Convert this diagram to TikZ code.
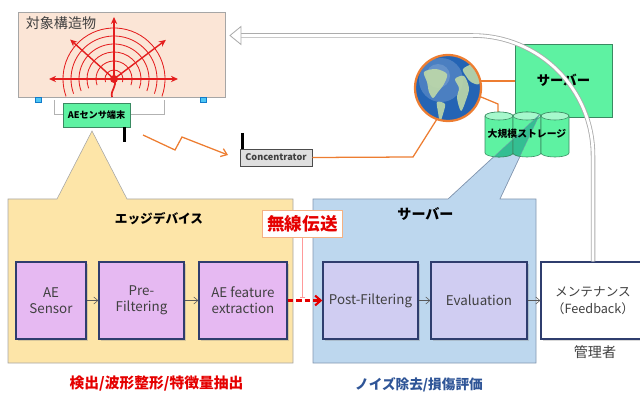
\documentclass[tikz,border=0pt]{standalone}
\usepackage{fontspec}
\setmainfont{Noto Sans CJK JP}
\usetikzlibrary{arrows.meta,shadows}

\definecolor{objfill}{HTML}{FBE5D6}
\definecolor{wave}{HTML}{E41E1E}
\definecolor{termgreen}{HTML}{5EF2A2}
\definecolor{drumline}{HTML}{3A8A62}
\definecolor{edgefill}{HTML}{FDE5A8}
\definecolor{srvfill}{HTML}{BDD7EE}
\definecolor{srvline}{HTML}{8497B0}
\definecolor{procA}{HTML}{E6B9F2}
\definecolor{procB}{HTML}{D0CDF2}
\definecolor{navy}{HTML}{2F3D6E}
\definecolor{wire}{HTML}{ED7D31}
\definecolor{capblue}{HTML}{2F5597}
\definecolor{globeblue}{HTML}{2464B4}
\definecolor{land}{HTML}{BFD9A8}
\definecolor{txtgray}{HTML}{404040}

\tikzset{
  proc/.style={draw=navy, line width=0.9pt, fill=procA, minimum height=1.925cm,
    inner sep=0pt, align=center, text=txtgray, font=\fontsize{9.5}{11.5}\selectfont,
    drop shadow={opacity=0.3, shadow xshift=1.2pt, shadow yshift=-1.2pt}},
  flow/.style={draw=gray!70!black, -{Straight Barb[length=3pt,width=5pt]}},
  wire/.style={draw=wire, line width=0.9pt},
  fb/.style={draw=gray!65, line width=0.6pt, double=white, double distance=2pt,
    rounded corners=3cm},
}

\begin{document}
\begin{tikzpicture}[x=0.025cm,y=0.025cm]
\useasboundingbox (0,0) rectangle (640,-394);

% structure with the AE source
\node[draw=gray!70, fill=objfill, minimum width=5.175cm, minimum height=2.125cm,
  drop shadow={opacity=0.25, shadow xshift=1pt, shadow yshift=-1pt}] (obj) at (121.5,-54.5) {};
\node[text=txtgray, font=\fontsize{10}{12}\selectfont] (objt) at (61,-23.5) {対象構造物};
\coordinate (src) at (114,-79);
\begin{scope}
  \clip (obj.south west) rectangle (obj.north east);
  \foreach \r in {9,18,27,35,43,51}
    \draw[wave, line width=0.6pt] (src) ++(-20:\r) arc[start angle=-20, end angle=200, radius=\r];
  \foreach \a/\l in {90/62, 180/65, 0/64, 138/59, 37/65}
    \draw[wave, line width=1pt, -{Stealth[length=5pt,width=4.5pt]}] (src) -- ++(\a:\l);
  \fill[wave] (src) circle (4);
  \draw[wave, line width=1.2pt] (src) .. controls (118,-86) and (110,-90) .. (112,-97);
\end{scope}
\node[draw=cyan!60!blue, fill=cyan!70, minimum width=0.15cm, minimum height=0.125cm, inner sep=0pt] (footl) at (38,-100) {};
\node[draw=cyan!60!blue, fill=cyan!70, minimum width=0.15cm, minimum height=0.125cm, inner sep=0pt] (footr) at (203,-100) {};

% sensor terminal
\draw[gray!60] (54,-100) |- (164,-114) -- (164,-100);
\node[draw=drumline, fill=termgreen, minimum width=1.675cm, minimum height=0.6cm, inner sep=0pt,
  font=\bfseries\fontsize{6.5}{8}\selectfont,
  drop shadow={opacity=0.3, shadow xshift=1pt, shadow yshift=-1pt}] (term) at (96.5,-115) {AEセンサ端末};
\draw[line width=2.2pt] (124.5,-127) -- (124.5,-142);

% wireless link to the concentrator
\node[draw=gray!60!black, fill=gray!25, minimum width=1.8cm, minimum height=0.425cm, inner sep=0pt,
  font=\bfseries\fontsize{6.5}{8}\selectfont, text=txtgray,
  drop shadow={opacity=0.3, shadow xshift=1pt, shadow yshift=-1pt}] (conc) at (276,-157.5) {Concentrator};
\draw[line width=2.2pt] (242.5,-133) -- (242.5,-149);
\coordinate (zz) at (143,-135);
\draw[wire, -{Straight Barb[length=4pt,width=6pt]}] (zz) -- (175,-150) -- (182,-137) -- (228,-155);

% edge device group
\draw[gray!70, fill=edgefill] (8,-199) -- (57,-199) -- (92,-131) -- (127,-199) -- (293,-199)
  -- (293,-363) -- (8,-363) -- cycle;
\node[font=\bfseries\fontsize{9}{11}\selectfont] (edget) at (159,-219) {エッジデバイス};

% server group
\draw[srvline, fill=srvfill] (313,-199) -- (448,-199) -- (540,-114) -- (500,-199) -- (536,-199)
  -- (536,-363) -- (313,-363) -- cycle;
\node[font=\bfseries\fontsize{10}{12}\selectfont] (servt) at (425.5,-214) {サーバー};

% cloud side
\draw[wire] (conc.east) -- (413,-157) -- (437,-119);
\node[draw=drumline, fill=termgreen, minimum width=2.425cm, minimum height=1.825cm, inner sep=0pt,
  font=\bfseries\fontsize{9.5}{11}\selectfont] (srv) at (563.5,-80.5) {サーバー};
\node[circle, minimum size=1.65cm, inner sep=0pt, fill=globeblue] (globe) at (448,-88) {};
\begin{scope}
  \clip (globe.center) circle (33);
  \fill[white, opacity=0.18] (441,-80) circle (22);
  \fill[white, opacity=0.15] (438,-76) circle (12);
  \fill[land, opacity=0.9] plot[smooth cycle] coordinates {(424,-72) (436,-69) (447,-74) (444,-84) (438,-92) (433,-98) (429,-92) (427,-82)};
  \fill[land, opacity=0.9] plot[smooth cycle] coordinates {(437,-102) (445,-104) (443,-114) (440,-122) (438,-112)};
  \fill[land, opacity=0.9] plot[smooth cycle] coordinates {(455,-79) (464,-76) (469,-88) (466,-100) (461,-111) (457,-98) (459,-88)};
  \fill[land, opacity=0.9] plot[smooth cycle] coordinates {(463,-69) (474,-64) (483,-72) (479,-84) (471,-82) (466,-76)};
\end{scope}
\draw[wire, line width=1.6pt] (globe.center) circle (33);
\draw[wire] (globe.12) -- (globe.12 -| srv.west);
\draw[wire] (globe.-15) -- (498,-104) -- (498,-113);

% storage drums
\foreach \x in {499,527,555} {
  \filldraw[draw=drumline, fill=termgreen] (\x-14,-116) -- (\x-14,-153)
    arc[start angle=180, end angle=360, x radius=14, y radius=4] -- (\x+14,-116)
    arc[start angle=0, end angle=180, x radius=14, y radius=4] -- cycle;
  \filldraw[draw=drumline, fill=termgreen!55!white] (\x,-116) ellipse[x radius=14, y radius=4];
}
\begin{scope}
  \clip (448,-199) -- (540,-114) -- (500,-199) -- cycle;
  \foreach \x in {499,527,555} {
    \filldraw[draw=drumline, fill=teal!45!termgreen] (\x-14,-116) -- (\x-14,-153)
      arc[start angle=180, end angle=360, x radius=14, y radius=4] -- (\x+14,-116)
      arc[start angle=0, end angle=180, x radius=14, y radius=4] -- cycle;
    \draw[drumline] (\x,-116) ellipse[x radius=14, y radius=4];
  }
  \draw[srvline] (448,-199) -- (540,-114) -- (500,-199);
\end{scope}
\node[font=\bfseries\fontsize{7}{8}\selectfont] (store) at (527,-134) {大規模ストレージ};

% processing chain
\node[proc, minimum width=1.75cm] (sens) at (51,-300.5) {AE\\Sensor};
\node[proc, minimum width=2.125cm] (pre) at (141.5,-300.5) {Pre-\\Filtering};
\node[proc, minimum width=2.2cm] (feat) at (243,-300.5) {AE feature\\extraction};
\node[proc, fill=procB, minimum width=2.375cm] (post) at (370.5,-300.5) {Post-Filtering};
\node[proc, fill=procB, minimum width=2.4cm] (eval) at (479,-300.5) {Evaluation};
\node[proc, fill=white, minimum width=2.6cm, font=\fontsize{9}{12}\selectfont] (mnt) at (593,-300.5) {メンテナンス\\（Feedback）};
\draw[flow] (sens) -- (pre);
\draw[flow] (pre) -- (feat);
\draw[flow] (post) -- (eval);
\draw[flow] (eval) -- (mnt);

% wireless transfer
\node[draw=wire!60, fill=white, minimum width=2cm, minimum height=0.675cm, inner sep=0pt,
  text=red!90!black, font=\bfseries\fontsize{12.5}{14}\selectfont] (tx) at (302.5,-224) {無線伝送};
\draw[red!40, -{Bar[width=4pt]}] (tx.south) -- ([yshift=2pt]tx.south |- feat.east);
\draw[red!90!black, line width=1.5pt, dash pattern=on 4pt off 2pt,
  -{Straight Barb[length=4pt,width=7pt]}] (feat) -- (post);

% feedback to the structure
\coordinate (fbend) at (241,-35.5);
\draw[fb] (mnt.north) |- (fbend);
\draw[gray!65, line width=0.6pt, fill=white] (241,-26.5) -- (230,-35.5) -- (241,-44.5) -- cycle;

% captions
\node[font=\fontsize{10}{12}\selectfont, text=txtgray] (admin) at (595,-352.5) {管理者};
\node[text=red!90!black, font=\bfseries\fontsize{10.5}{12}\selectfont] (capl) at (156.5,-383.5) {検出/波形整形/特徴量抽出};
\node[text=capblue, font=\bfseries\fontsize{9.7}{12}\selectfont] (capr) at (419,-385) {ノイズ除去/損傷評価};
\end{tikzpicture}
\end{document}
